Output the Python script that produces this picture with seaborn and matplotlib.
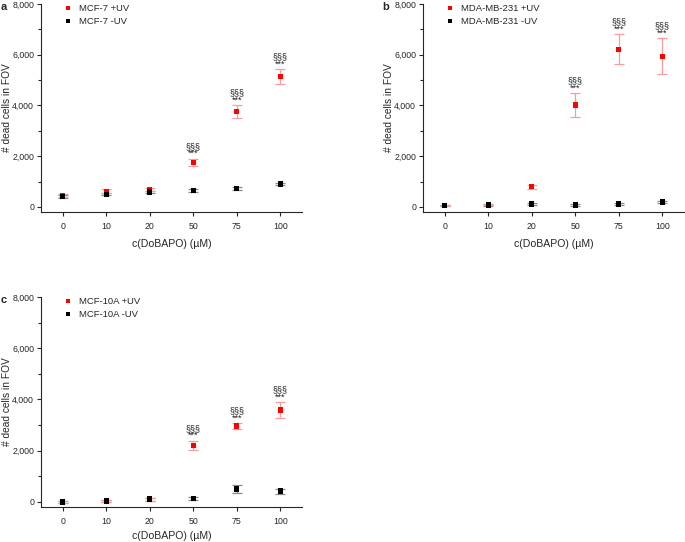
import matplotlib
matplotlib.use('Agg')
import numpy as np
import pandas as pd
import matplotlib.pyplot as plt
import seaborn as sns
from matplotlib.ticker import MultipleLocator, FuncFormatter

sns.set_style("ticks")
plt.rcParams['font.family'] = ['Liberation Sans', 'DejaVu Sans']

# =====================================================
#  DATOS
# =====================================================
conc = ["0", "10", "20", "50", "75", "100"]

mcf7_uv = [460, 610, 680, 1750, 3760, 5130]
mcf7_uv_err = [60, 80, 60, 150, 255, 300]
mcf7_dark = [420, 500, 590, 640, 720, 900]
mcf7_dark_err = [50, 50, 50, 50, 50, 50]

mda_uv = [60, 90, 800, 4010, 6210, 5940]
mda_uv_err = [30, 30, 80, 470, 590, 700]
mda_dark = [50, 80, 120, 80, 120, 195]
mda_dark_err = [30, 30, 30, 30, 30, 40]

mcf10a_uv = [0, 40, 90, 2210, 2960, 3580]
mcf10a_uv_err = [30, 30, 50, 180, 110, 300]
mcf10a_dark = [0, 40, 105, 130, 500, 420]
mcf10a_dark_err = [30, 30, 60, 70, 150, 100]

sig_idx = [3, 4, 5]  # 50, 75, 100 uM
sig_label = "§§§\n***"

panels = [
    ("a", "MCF-7", mcf7_uv, mcf7_uv_err, mcf7_dark, mcf7_dark_err),
    ("b", "MDA-MB-231", mda_uv, mda_uv_err, mda_dark, mda_dark_err),
    ("c", "MCF-10A", mcf10a_uv, mcf10a_uv_err, mcf10a_dark, mcf10a_dark_err),
]

# posiciones de los ejes (fracciones de la figura) y del titulo del eje x
positions = [
    [0.0599, 0.6089, 0.381, 0.3838],
    [0.6175, 0.6089, 0.381, 0.3838],
    [0.0599, 0.0646, 0.381, 0.3875],
]
xlabel_y = [-0.13, -0.13, -0.112]

fig = plt.figure(figsize=(6.85, 5.42), dpi=100)

for (letter, cell, uv, uv_err, dark, dark_err), pos, xly in zip(panels, positions, xlabel_y):
    ax = fig.add_axes(pos)
    df = pd.DataFrame({
        "conc": conc * 2,
        "dead": uv + dark,
        "cond": [f"{cell} +UV"] * 6 + [f"{cell} -UV"] * 6,
    })
    # barras de error
    ax.errorbar(conc, dark, yerr=dark_err, fmt="none", ecolor="#8a8a8a",
                elinewidth=0.9, capsize=3.3, capthick=0.9, zorder=1)
    ax.errorbar(conc, uv, yerr=uv_err, fmt="none", ecolor="#ff9a9a",
                elinewidth=0.9, capsize=3.3, capthick=0.9, zorder=1)
    sns.scatterplot(data=df, x="conc", y="dead", hue="cond",
                    palette=["#ff0000", "#000000"], marker="s", s=15,
                    edgecolor="none", ax=ax, zorder=3)

    # simbolos de significancia
    for i in sig_idx:
        ax.annotate(sig_label, xy=(i, uv[i] + uv_err[i]), xytext=(0, 0.5),
                    textcoords="offset points", ha="center", va="bottom",
                    fontsize=6.5, linespacing=0.75, color="#222222")

    ax.set_xlim(-0.5, 5.5)
    ax.set_ylim(-200, 8000)
    ax.yaxis.set_major_locator(MultipleLocator(2000))
    ax.yaxis.set_minor_locator(MultipleLocator(1000))
    ax.yaxis.set_major_formatter(FuncFormatter(lambda v, p: f"{int(v):,}"))
    ax.tick_params(axis="both", labelsize=6.3, length=3, width=0.8,
                   direction="out", pad=2)
    ax.tick_params(axis="x", pad=4)
    ax.tick_params(axis="y", which="minor", length=2, width=0.8)
    sns.despine(ax=ax)
    for s in ["left", "bottom"]:
        ax.spines[s].set_linewidth(0.8)
    ax.set_xlabel("c(DoBAPO) (µM)", fontsize=7.6)
    ax.set_ylabel("# dead cells in FOV", fontsize=7.3)
    ax.xaxis.set_label_coords(0.5, xly)
    ax.yaxis.set_label_coords(-0.112, 0.5)

    ax.legend(loc="upper left", bbox_to_anchor=(0.06, 1.04), frameon=False,
              fontsize=6.8, handlelength=0.6, handletextpad=0.9,
              labelspacing=0.4, markerscale=0.9)
    ax.text(-0.155, 0.985, letter, transform=ax.transAxes, fontsize=8,
            fontweight="bold", va="center", ha="left")

fig.savefig("out.png", dpi=100)
